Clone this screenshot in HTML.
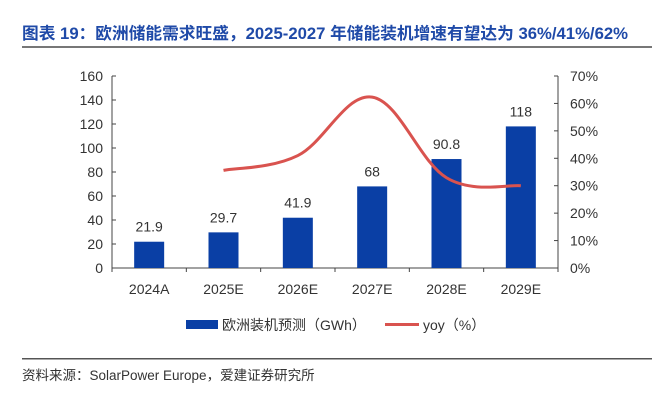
<!DOCTYPE html>
<html><head><meta charset="utf-8"><style>
body{margin:0;background:#fff;width:670px;height:415px;overflow:hidden;font-family:"Liberation Sans","Noto Sans CJK SC",sans-serif}
</style></head><body>
<svg width="670" height="415" xmlns="http://www.w3.org/2000/svg" font-family="Liberation Sans, Noto Sans CJK SC, sans-serif">
<text x="22" y="39" font-size="16.5" font-weight="bold" fill="#1f4aa8" textLength="606" lengthAdjust="spacingAndGlyphs">图表 19：欧洲储能需求旺盛，2025-2027 年储能装机增速有望达为 36%/41%/62%</text>
<rect x="22" y="46" width="630" height="2" fill="#777"/>
<g id="plot"></g>
<g>
<rect x="186" y="320" width="32" height="9" fill="#0a3fa5"/>
<text x="222" y="330" font-size="14" fill="#333">欧洲装机预测（GWh）</text>
<rect x="385" y="323" width="34" height="3" fill="#d9534f"/>
<text x="423" y="330" font-size="14" fill="#333">yoy（%）</text>
</g>
<rect x="22" y="358" width="630" height="1.5" fill="#555"/>
<text x="22" y="380" font-size="13.5" fill="#333">资料来源：SolarPower Europe，爱建证券研究所</text>
</svg>
<script>
const categories=["2024A","2025E","2026E","2027E","2028E","2029E"];
const installs=[21.9,29.7,41.9,68,90.8,118];
const installLabels=["21.9","29.7","41.9","68","90.8","118"];
const yoy=[null,35.6,41,62.3,32.9,30];
const leftTicks=[0,20,40,60,80,100,120,140,160];
const rightTicks=[0,10,20,30,40,50,60,70];
const NS="http://www.w3.org/2000/svg";
const g=document.getElementById('plot');
const X0=112,X1=558,Y0=268,Y1=76;
const step=(X1-X0)/categories.length;
const xc=i=>X0+step*(i+0.5);
const yl=v=>Y0-(v/160)*(Y0-Y1);
const yr=v=>Y0-(v/70)*(Y0-Y1);
function mk(t,a,txt){const e=document.createElementNS(NS,t);for(const k in a)e.setAttribute(k,a[k]);if(txt!=null)e.textContent=txt;g.appendChild(e);return e;}
let e;
e=mk('line',{x1:X0,y1:Y1,x2:X0,y2:Y0,stroke:'#444','stroke-width':1});


e=mk('line',{x1:X1,y1:Y1,x2:X1,y2:Y0,stroke:'#444','stroke-width':1});


e=mk('line',{x1:X0,y1:Y0,x2:X1,y2:Y0,stroke:'#444','stroke-width':1});


leftTicks.forEach(v=>{
 mk('line',{x1:X0,y1:yl(v),x2:X0+4,y2:yl(v),stroke:'#444'});
 e=mk('text',{x:X0-9,y:yl(v)+5,'font-size':14,'text-anchor':'end',fill:'#333'},String(v));
 
 
});
rightTicks.forEach(v=>{
 mk('line',{x1:X1-4,y1:yr(v),x2:X1,y2:yr(v),stroke:'#444'});
 e=mk('text',{x:X1+12,y:yr(v)+5,'font-size':14,fill:'#333'},v+'%');
 
 
});
for(let i=0;i<=categories.length;i++){mk('line',{x1:X0+step*i,y1:Y0,x2:X0+step*i,y2:Y0+4,stroke:'#444'});}
categories.forEach((c,i)=>{
 e=mk('rect',{x:xc(i)-15,y:yl(installs[i]),width:30,height:Y0-yl(installs[i]),fill:'#0a3fa5'});
 
 
 e=mk('text',{x:xc(i),y:yl(installs[i])-10,'font-size':14,'text-anchor':'middle',fill:'#333'},installLabels[i]);
 
 
 e=mk('text',{x:xc(i),y:Y0+26,'font-size':14,'text-anchor':'middle',fill:'#333'},c);
 
 
});
const pts=[];yoy.forEach((v,i)=>{if(v!=null)pts.push([xc(i),yr(v)]);});
let d='M'+pts[0][0]+','+pts[0][1];
for(let i=0;i<pts.length-1;i++){
 const p0=pts[i-1]||pts[i],p1=pts[i],p2=pts[i+1],p3=pts[i+2]||p2,t=0.18;
 d+=` C${p1[0]+(p2[0]-p0[0])*t},${p1[1]+(p2[1]-p0[1])*t} ${p2[0]-(p3[0]-p1[0])*t},${p2[1]-(p3[1]-p1[1])*t} ${p2[0]},${p2[1]}`;
}
e=mk('path',{d:d,fill:'none',stroke:'#d9534f','stroke-width':3});


</script>
</body></html>
